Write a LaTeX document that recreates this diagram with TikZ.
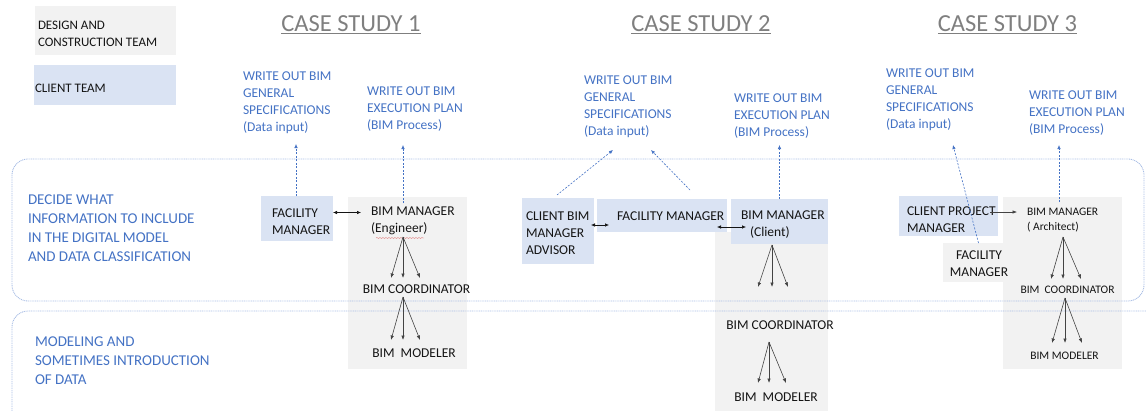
\documentclass[tikz,border=0pt]{standalone}
\usepackage{fontspec}
\setmainfont{Carlito}
\usetikzlibrary{arrows.meta,decorations.pathmorphing}
\definecolor{txtblue}{HTML}{4472C4}
\definecolor{boxblue}{HTML}{DAE3F3}
\definecolor{boxgray}{HTML}{F2F2F2}
\definecolor{rimblue}{HTML}{A9BEE5}
\definecolor{titlegray}{HTML}{7F7F7F}
\definecolor{inkdark}{HTML}{141414}
\newcommand{\fnBody}{\fontsize{13.5}{17}\selectfont}
\newcommand{\fnSmall}{\fontsize{11.5}{15}\selectfont}
\newcommand{\fnRow}{\fontsize{15}{19}\selectfont}
\newcommand{\fnTitle}{\fontsize{24.5}{28}\selectfont}
\newcommand{\fnLeg}{\fontsize{13}{16.5}\selectfont}
\begin{document}
\begin{tikzpicture}[x=1pt,y=-1pt,
 basebox/.style={inner sep=0pt,outer sep=0pt,anchor=north west,draw=none},
 bluebox/.style={basebox,fill=boxblue},
 graybox/.style={basebox,fill=boxgray},
 txt/.style={inner sep=0pt,outer sep=0pt,align=left,anchor=west,text=inkdark,font=\fnBody},
 btxt/.style={txt,text=txtblue},
 casetitle/.style={inner sep=0pt,outer sep=0pt,text=titlegray,font=\fnTitle},
 zoneframe/.style={draw=rimblue,line width=0.9pt,dash pattern=on 1pt off 0.8pt,rounded corners=16pt},
 arr/.style={draw=inkdark!80,line width=0.6pt,-{Latex[length=4.5pt,width=3.5pt]}},
 darr/.style={draw=inkdark,line width=0.6pt,{Latex[length=4pt,width=3.5pt]}-{Latex[length=4pt,width=3.5pt]}},
 dasharr/.style={draw=txtblue,line width=0.6pt,dash pattern=on 2pt off 1.5pt,-{Latex[length=4pt,width=3.5pt]}}
]
\useasboundingbox (0,0) rectangle (1146,410);
\clip (0,0) rectangle (1146,410);

% legend
\node[graybox,minimum width=141pt,minimum height=49pt] (legdc) at (35,6) {};
\node[txt,font=\fnLeg] (legdctxt) at (38,34) {DESIGN AND\\CONSTRUCTION TEAM};
\node[bluebox,minimum width=142pt,minimum height=40pt] (legcl) at (34,65) {};
\node[txt,font=\fnLeg] (legcltxt) at (35,88) {CLIENT TEAM};

% titles
\node[casetitle] (cs1) at (351,24) {CASE STUDY 1};
\node[casetitle] (cs2) at (701,24) {CASE STUDY 2};
\node[casetitle] (cs3) at (1007.5,24) {CASE STUDY 3};
\foreach \t in {cs1,cs2,cs3}{
  \draw[titlegray,line width=0.8pt] ([yshift=-1.5pt]\t.south west) -- ([yshift=-1.5pt]\t.south east);
}

% blue task texts
\node[btxt] (gen1) at (243,103) {WRITE OUT BIM\\GENERAL\\SPECIFICATIONS\\(Data input)};
\node[btxt] (exe1) at (367,109) {WRITE OUT BIM\\EXECUTION PLAN\\(BIM Process)};
\node[btxt] (gen2) at (584,107) {WRITE OUT BIM\\GENERAL\\SPECIFICATIONS\\(Data input)};
\node[btxt] (exe2) at (734,116) {WRITE OUT BIM\\EXECUTION PLAN\\(BIM Process)};
\node[btxt] (gen3) at (886,100) {WRITE OUT BIM\\GENERAL\\SPECIFICATIONS\\(Data input)};
\node[btxt] (exe3) at (1029,113) {WRITE OUT BIM\\EXECUTION PLAN\\(BIM Process)};

% gray columns
\node[graybox,minimum width=119pt,minimum height=172pt] (col1) at (348,197) {};
\node[graybox,minimum width=113pt,minimum height=180pt] (col2) at (715,232) {};
\node[graybox,minimum width=119pt,minimum height=172pt] (col3) at (1003,197) {};
\node[graybox,minimum width=71pt,minimum height=39pt] (fm3) at (943,243) {};

% zones
\draw[zoneframe] (12,159) rectangle (1144,301);
\draw[zoneframe] (12,311) rectangle (1175,430);
\node[btxt,font=\fnRow] (row1) at (28,228.5) {DECIDE WHAT\\INFORMATION TO INCLUDE\\IN THE DIGITAL MODEL\\AND DATA CLASSIFICATION};
\node[btxt,font=\fnRow] (row2) at (35,361) {MODELING AND\\SOMETIMES INTRODUCTION\\OF DATA};

% ---- case study 1
\node[bluebox,minimum width=72pt,minimum height=45pt] (fm1) at (261,196) {};
\node[txt] (fm1t) at (272,222) {FACILITY\\MANAGER};
\node[txt] (bm1) at (371,221) {BIM MANAGER\\(Engineer)};
\draw[red!80!black,opacity=0.6,line width=0.35pt,decorate,decoration={snake,amplitude=0.45pt,segment length=3pt}] ([shift={(5,17)}]bm1.west) -- ([shift={(53,17)}]bm1.west);
\node[txt,anchor=center] (co1) at (416.5,289) {BIM COORDINATOR};
\node[txt,anchor=center] (mo1) at (414,353) {BIM\ \ MODELER};
\draw[darr] ([shift={(0,-6)}]fm1.east) -- ([shift={(-10,-8.5)}]bm1.west);
\coordinate (ap1) at (403,237);
\coordinate (ap2) at (403,297);
\foreach \dx in {-12,0,17}{\draw[arr] (ap1) -- ++(\dx,41);}
\foreach \dx in {-12,0,17}{\draw[arr] (ap2) -- ++(\dx,43);}
\draw[dasharr] ([xshift=-1pt]fm1.north) -- ++(0,-52);
\coordinate (up1) at (403,203);
\draw[dasharr] (up1) -- ++(0,-58);

% ---- case study 2
\node[bluebox,minimum width=72pt,minimum height=66pt] (cba) at (522,198) {};
\node[txt] (cbat) at (526,233) {CLIENT BIM\\MANAGER\\ADVISOR};
\node[bluebox,minimum width=130pt,minimum height=33pt] (fm2) at (597,199) {};
\node[txt] (fm2t) at (617,216.5) {FACILITY MANAGER};
\node[bluebox,minimum width=97pt,minimum height=45pt] (bm2box) at (731,199) {};
\node[txt] (bm2) at (741,225) {BIM MANAGER\\\hspace*{9pt}(Client)};
\node[txt,anchor=center] (co2) at (780,325) {BIM COORDINATOR};
\node[txt,anchor=center] (mo2) at (776,397) {BIM\ \ MODELER};
\draw[darr] ([shift={(-3,-6)}]cba.east) -- ([shift={(12,9.5)}]fm2.west);
\draw[darr] ([shift={(-10,11.5)}]fm2.east) -- ([shift={(15,5.5)}]bm2box.west);
\coordinate (ap3) at (772,245);
\coordinate (ap4) at (769,342);
\foreach \dx in {-14,0,16}{\draw[arr] (ap3) -- ++(\dx,42);}
\foreach \dx in {-11,0,17}{\draw[arr] (ap4) -- ++(\dx,41);}
\coordinate (tip2a) at (613,150);
\coordinate (tip2b) at (651,150);
\draw[dasharr] ([shift={(-1,-3)}]cba.north) -- (tip2a);
\draw[dasharr] ([shift={(28,-9)}]fm2.north) -- (tip2b);
\draw[dasharr] (bm2box.north) -- ++(0,-54);

% ---- case study 3
\node[bluebox,minimum width=99pt,minimum height=40pt] (cpm) at (899,196) {};
\node[txt] (cpmt) at (907,220) {CLIENT PROJECT\\MANAGER};
\node[txt,align=center,anchor=center] (fm3t) at (979,264) {FACILITY\\MANAGER};
\node[txt,font=\fnSmall] (bm3) at (1027,220) {BIM MANAGER\\( Architect)};
\node[txt,font=\fnSmall,anchor=center] (co3) at (1067.5,289.5) {BIM\ \ COORDINATOR};
\node[txt,font=\fnSmall,anchor=center] (mo3) at (1064.5,355.5) {BIM MODELER};
\draw[arr] ([shift={(-8,-4)}]cpm.east) -- ([shift={(-10,-8)}]bm3.west);
\coordinate (ap5) at (1063,237);
\coordinate (ap6) at (1065,298);
\foreach \dx in {-12,0,18}{\draw[arr] (ap5) -- ++(\dx,42);}
\foreach \dx in {-13,0,17}{\draw[arr] (ap6) -- ++(\dx,45);}
\coordinate (tip3a) at (953,145);
\draw[dasharr] (fm3.north) -- (tip3a);
\coordinate (up3) at (1059,202);
\draw[dasharr] (up3) -- ++(0,-57);
\end{tikzpicture}
\end{document}
